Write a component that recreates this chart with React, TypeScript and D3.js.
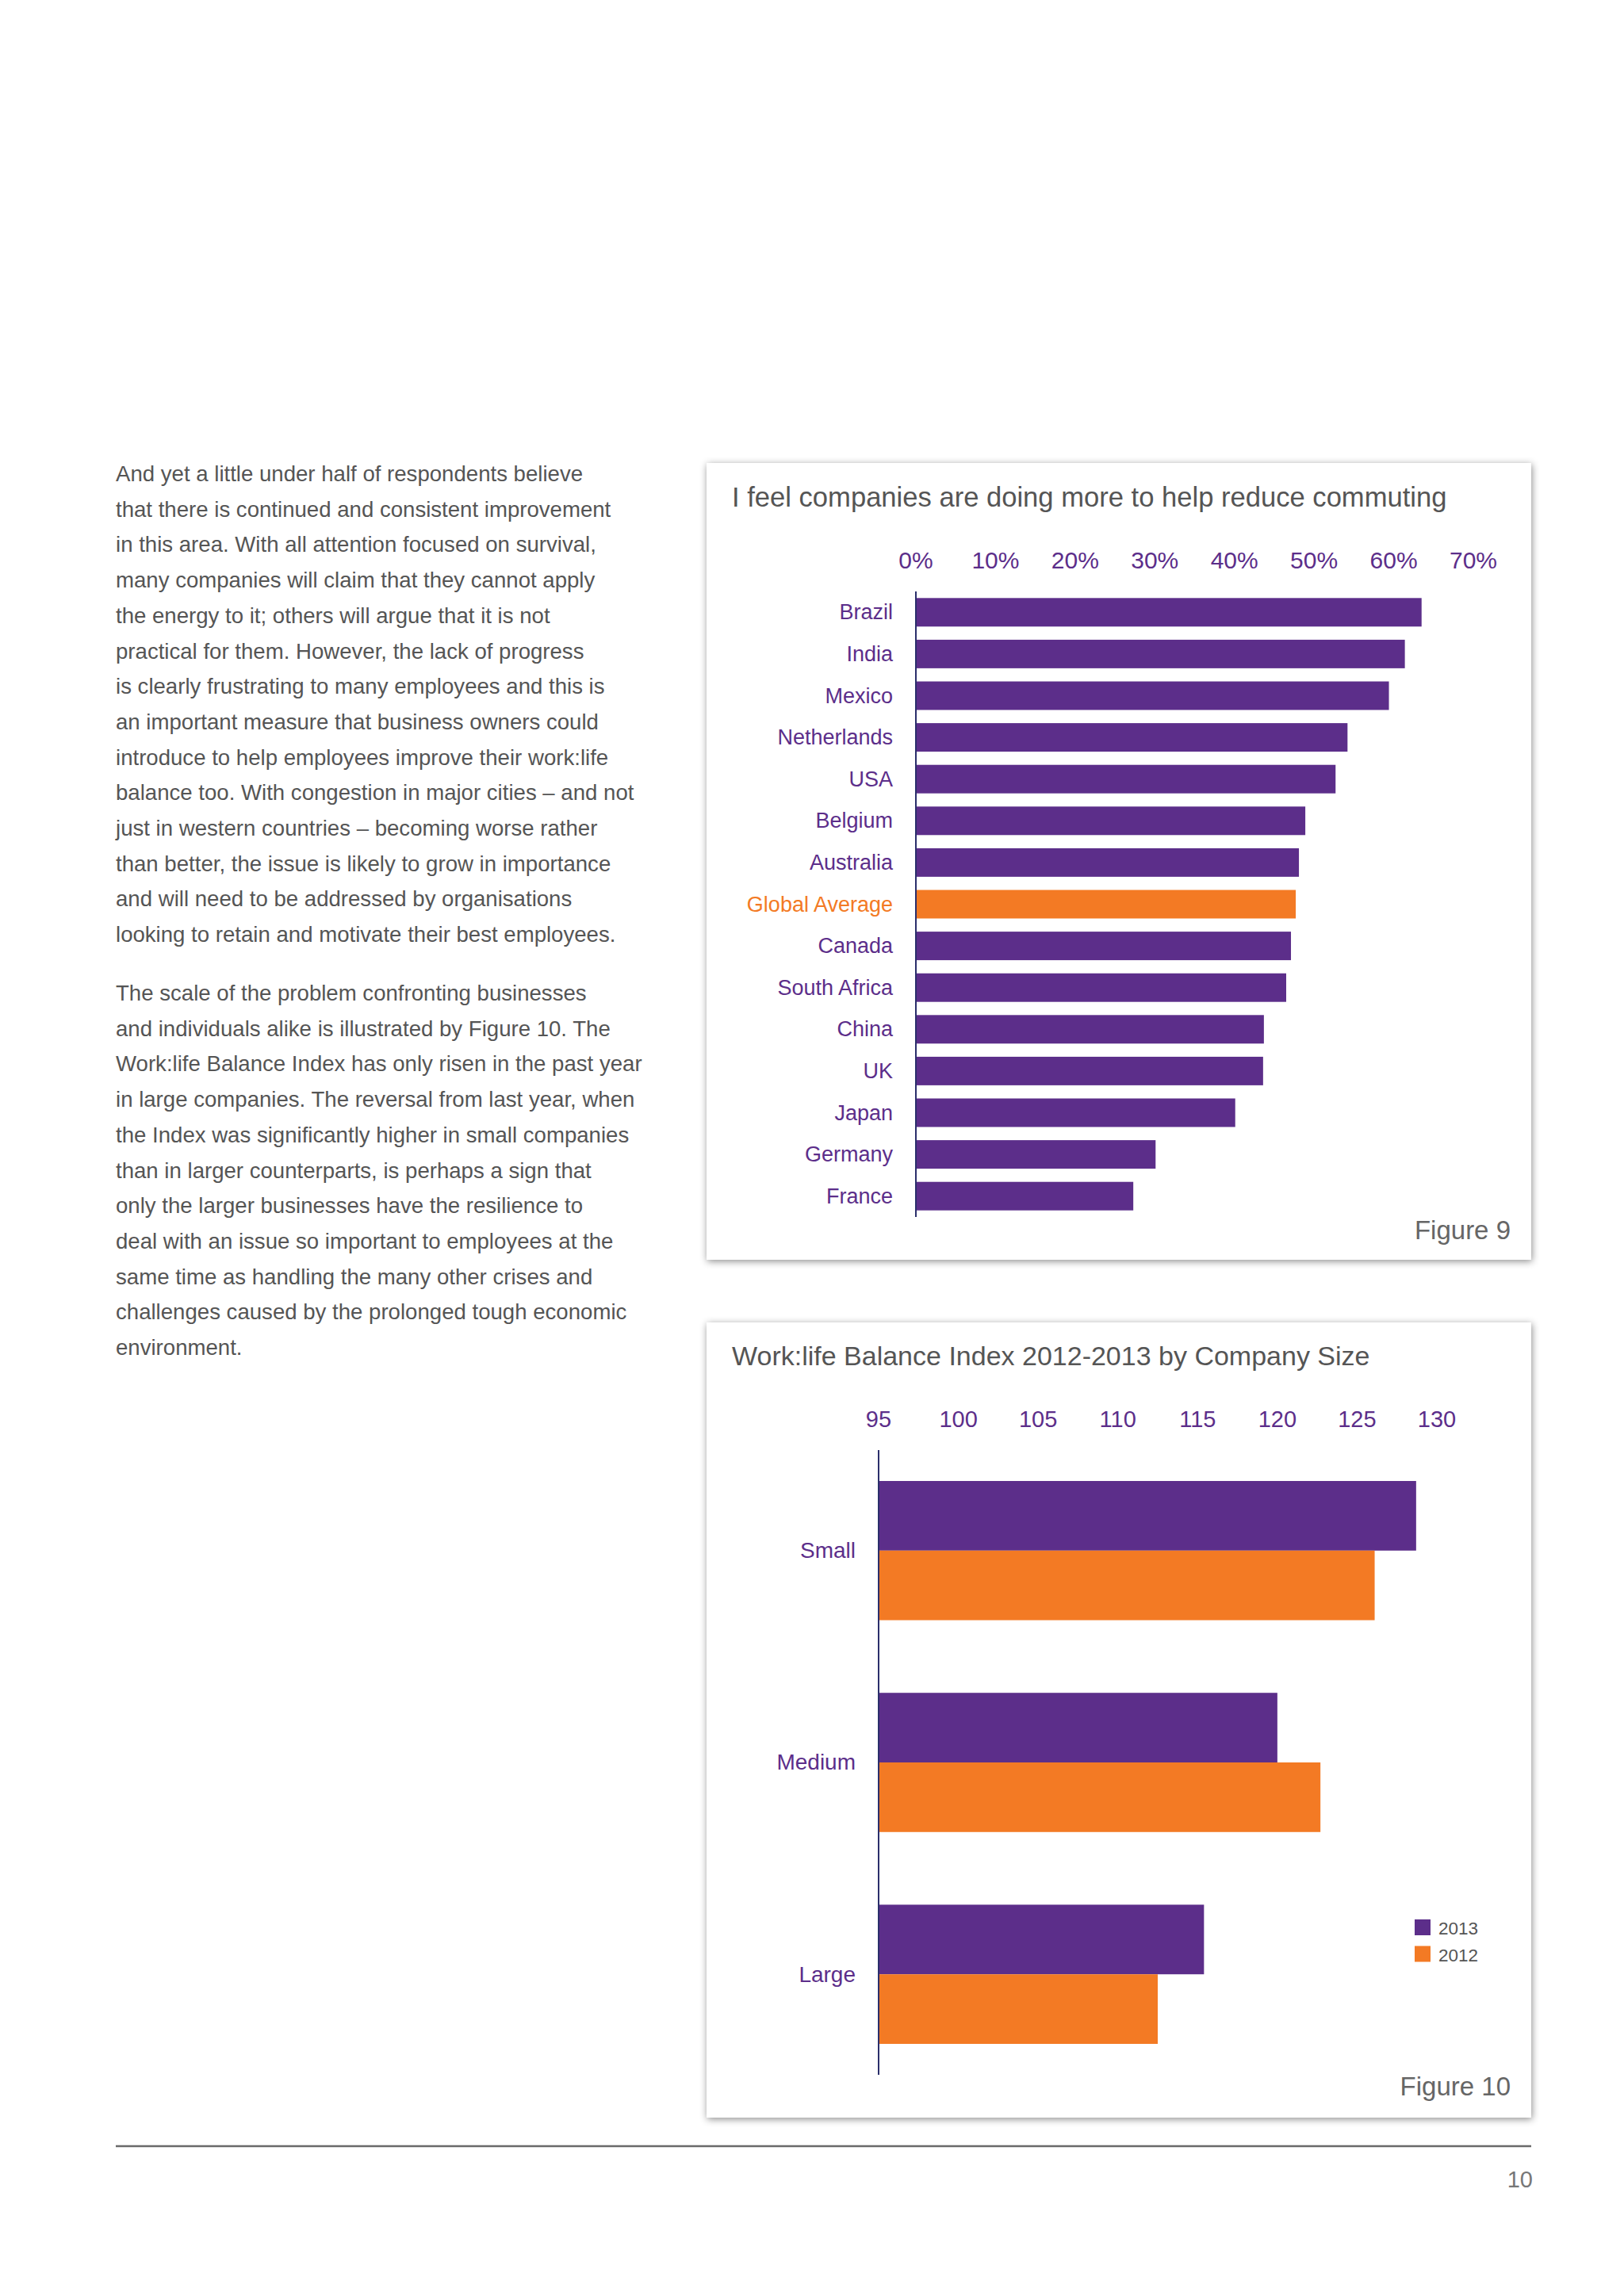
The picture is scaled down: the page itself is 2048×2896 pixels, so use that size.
import React from "react";
import * as d3 from "d3";

// ---------- Data ----------
const countries = [
  "Brazil", "India", "Mexico", "Netherlands", "USA", "Belgium", "Australia",
  "Global Average", "Canada", "South Africa", "China", "UK", "Japan", "Germany", "France",
];
const commuteShare = [
  0.635, 0.614, 0.594, 0.542, 0.527, 0.489, 0.481,
  0.477, 0.471, 0.465, 0.437, 0.436, 0.401, 0.301, 0.273,
];
const pctTicks = [0, 0.1, 0.2, 0.3, 0.4, 0.5, 0.6, 0.7];

const companySizes = ["Small", "Medium", "Large"];
const years = ["2013", "2012"];
const index2013 = [128.7, 120.0, 115.4];
const index2012 = [126.1, 122.7, 112.5];
const indexTicks = [95, 100, 105, 110, 115, 120, 125, 130];

const para1 = [
  "And yet a little under half of respondents believe",
  "that there is continued and consistent improvement",
  "in this area. With all attention focused on survival,",
  "many companies will claim that they cannot apply",
  "the energy to it; others will argue that it is not",
  "practical for them. However, the lack of progress",
  "is clearly frustrating to many employees and this is",
  "an important measure that business owners could",
  "introduce to help employees improve their work:life",
  "balance too. With congestion in major cities \u2013 and not",
  "just in western countries \u2013 becoming worse rather",
  "than better, the issue is likely to grow in importance",
  "and will need to be addressed by organisations",
  "looking to retain and motivate their best employees.",
];
const para2 = [
  "The scale of the problem confronting businesses",
  "and individuals alike is illustrated by Figure 10. The",
  "Work:life Balance Index has only risen in the past year",
  "in large companies. The reversal from last year, when",
  "the Index was significantly higher in small companies",
  "than in larger counterparts, is perhaps a sign that",
  "only the larger businesses have the resilience to",
  "deal with an issue so important to employees at the",
  "same time as handling the many other crises and",
  "challenges caused by the prolonged tough economic",
  "environment.",
];

// ---------- Styles ----------
const FONT = "'Liberation Sans', Arial, Helvetica, sans-serif";
const PURPLE = "#5C2E8A";
const ORANGE = "#F37A24";
const TEXT_GRAY = "#555555";
const AXIS = "#2B2F6B";

export default function App() {
  // Chart 1 scales
  const x1 = d3.scaleLinear().domain([0, 0.7]).range([1155, 1858]);
  const y1 = d3
    .scaleBand<string>()
    .domain(countries)
    .range([746, 1535])
    .paddingInner(0.316)
    .paddingOuter(0.158);
  const pctFmt = d3.format(".0%");

  // Chart 2 scales
  const x2 = d3.scaleLinear().domain([95, 130]).range([1108, 1812]);
  const y2 = d3
    .scaleBand<string>()
    .domain(companySizes)
    .range([1829, 2617])
    .paddingInner(0.343)
    .paddingOuter(0.146);
  const y2inner = d3.scaleBand<string>().domain(years).range([0, y2.bandwidth()]);
  const color2 = d3.scaleOrdinal<string, string>().domain(years).range([PURPLE, ORANGE]);
  const seriesValues: Record<string, number[]> = { "2013": index2013, "2012": index2012 };

  const lineH = 44.7;

  return (
    <div style={{ position: "absolute", left: 0, top: 0 }}>
      <svg width={2048} height={2896} style={{ display: "block", background: "#fff" }} fontFamily={FONT}>
        <defs>
          <filter id="shadow" x="-5%" y="-5%" width="110%" height="110%">
            <feDropShadow dx="1" dy="2" stdDeviation="5" floodColor="#000" floodOpacity="0.45" />
          </filter>
        </defs>
        <rect x={0} y={0} width={2048} height={2896} fill="#fff" />

        {/* Left body text */}
        <g fill={TEXT_GRAY} fontSize={27.6}>
          {para1.map((t, i) => (
            <text key={"p1" + i} x={146} y={607 + i * lineH}>{t}</text>
          ))}
          {para2.map((t, i) => (
            <text key={"p2" + i} x={146} y={1262 + i * lineH}>{t}</text>
          ))}
        </g>

        {/* ---------- Figure 9 ---------- */}
        <rect x={891} y={584} width={1040} height={1005} fill="#fff" filter="url(#shadow)" />
        <text x={923} y={639} fontSize={34.6} fill={TEXT_GRAY}>
          I feel companies are doing more to help reduce commuting
        </text>
        <g fontSize={30} fill={PURPLE} textAnchor="middle">
          {pctTicks.map((t) => (
            <text key={t} x={x1(t)} y={717}>{pctFmt(t)}</text>
          ))}
        </g>
        {countries.map((c, i) => {
          const isAvg = c === "Global Average";
          return (
            <g key={c}>
              <rect
                x={x1(0)}
                y={y1(c)!}
                width={x1(commuteShare[i]) - x1(0)}
                height={y1.bandwidth()}
                fill={isAvg ? ORANGE : PURPLE}
              />
              <text
                x={1126}
                y={y1(c)! + y1.bandwidth() / 2}
                dominantBaseline="central"
                textAnchor="end"
                fontSize={27}
                fill={isAvg ? ORANGE : PURPLE}
              >
                {c}
              </text>
            </g>
          );
        })}
        <line x1={x1(0)} x2={x1(0)} y1={746} y2={1535} stroke={AXIS} strokeWidth={2} />
        <text x={1905} y={1563} fontSize={33} fill="#666" textAnchor="end">Figure 9</text>

        {/* ---------- Figure 10 ---------- */}
        <rect x={891} y={1668} width={1040} height={1003} fill="#fff" filter="url(#shadow)" />
        <text x={923} y={1722} fontSize={34} fill={TEXT_GRAY}>
          Work:life Balance Index 2012-2013 by Company Size
        </text>
        <g fontSize={29} fill={PURPLE} textAnchor="middle">
          {indexTicks.map((t) => (
            <text key={t} x={x2(t)} y={1800}>{t}</text>
          ))}
        </g>
        {companySizes.map((s, i) => (
          <g key={s} transform={`translate(0,${y2(s)})`}>
            {years.map((yr) => (
              <rect
                key={yr}
                x={x2(95)}
                y={y2inner(yr)!}
                width={x2(seriesValues[yr][i]) - x2(95)}
                height={y2inner.bandwidth()}
                fill={color2(yr)}
              />
            ))}
            <text
              x={1079}
              y={y2.bandwidth() / 2}
              dominantBaseline="central"
              textAnchor="end"
              fontSize={28}
              fill={PURPLE}
            >
              {s}
            </text>
          </g>
        ))}
        <line x1={x2(95)} x2={x2(95)} y1={1829} y2={2617} stroke={AXIS} strokeWidth={2} />
        {/* Legend */}
        {years.map((yr, i) => (
          <g key={yr} transform={`translate(1784,${2421 + i * 33.5})`}>
            <rect x={0} y={0} width={20} height={20} fill={color2(yr)} />
            <text x={30} y={19} fontSize={22.5} fill={TEXT_GRAY}>{yr}</text>
          </g>
        ))}
        <text x={1905} y={2643} fontSize={33} fill="#666" textAnchor="end">Figure 10</text>

        {/* Footer */}
        <line x1={146} x2={1931} y1={2707} y2={2707} stroke="#6a6a6a" strokeWidth={2.5} />
        <text x={1933} y={2759} fontSize={29} fill="#777" textAnchor="end">10</text>
      </svg>
    </div>
  );
}
